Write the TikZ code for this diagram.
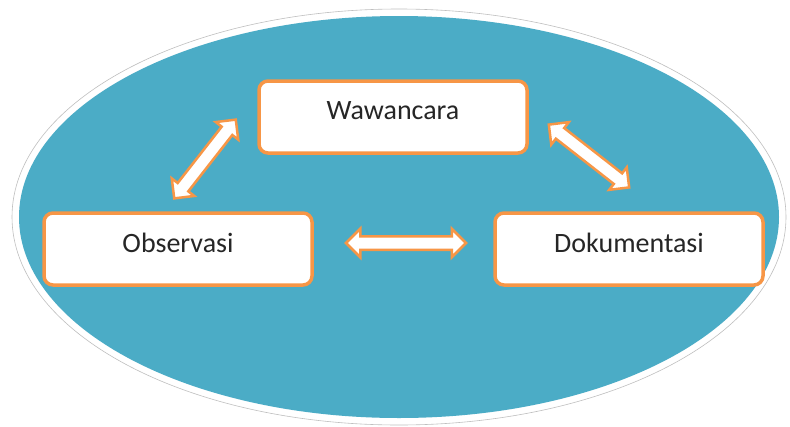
\documentclass[tikz,border=0pt]{standalone}
\usepackage{fontspec}
\setmainfont{Carlito}
\usetikzlibrary{shapes.arrows}
\definecolor{oceanblue}{HTML}{4BACC6}
\definecolor{boxorange}{HTML}{F79646}
\begin{document}
\begin{tikzpicture}[x=1pt, y=-1pt,
    box/.style={draw=boxorange, fill=white, line width=3.5pt, rounded corners=9pt,
        minimum width=268pt, minimum height=72pt, text depth=12pt,
        font=\fontsize{28}{32}\selectfont, text=black!85},
    twoway/.style={double arrow, draw=boxorange, fill=white, line width=2.5pt,
        inner xsep=0pt, inner ysep=5.5pt, double arrow head extend=7.5pt}]
    \useasboundingbox (0,0) rectangle (790,426);
    \fill[white, draw=black!25, line width=0.6pt] (399,217) ellipse [x radius=387, y radius=208];
    \fill[oceanblue] (399,217) ellipse [x radius=380, y radius=201];
    \node[box] (wawancara) at (393,117) {Wawancara};
    \node[box] (observasi) at (178,249) {Observasi};
    \node[box] (dokumentasi) at (629,249) {Dokumentasi};
    \node[twoway, minimum height=100pt, rotate=52] (arrowOW) at (205,159) {};
    \node[twoway, minimum height=102pt, rotate=-38] (arrowWD) at (589,156) {};
    \node[twoway, minimum height=120pt] (arrowOD) at (406,243) {};
\end{tikzpicture}
\end{document}
